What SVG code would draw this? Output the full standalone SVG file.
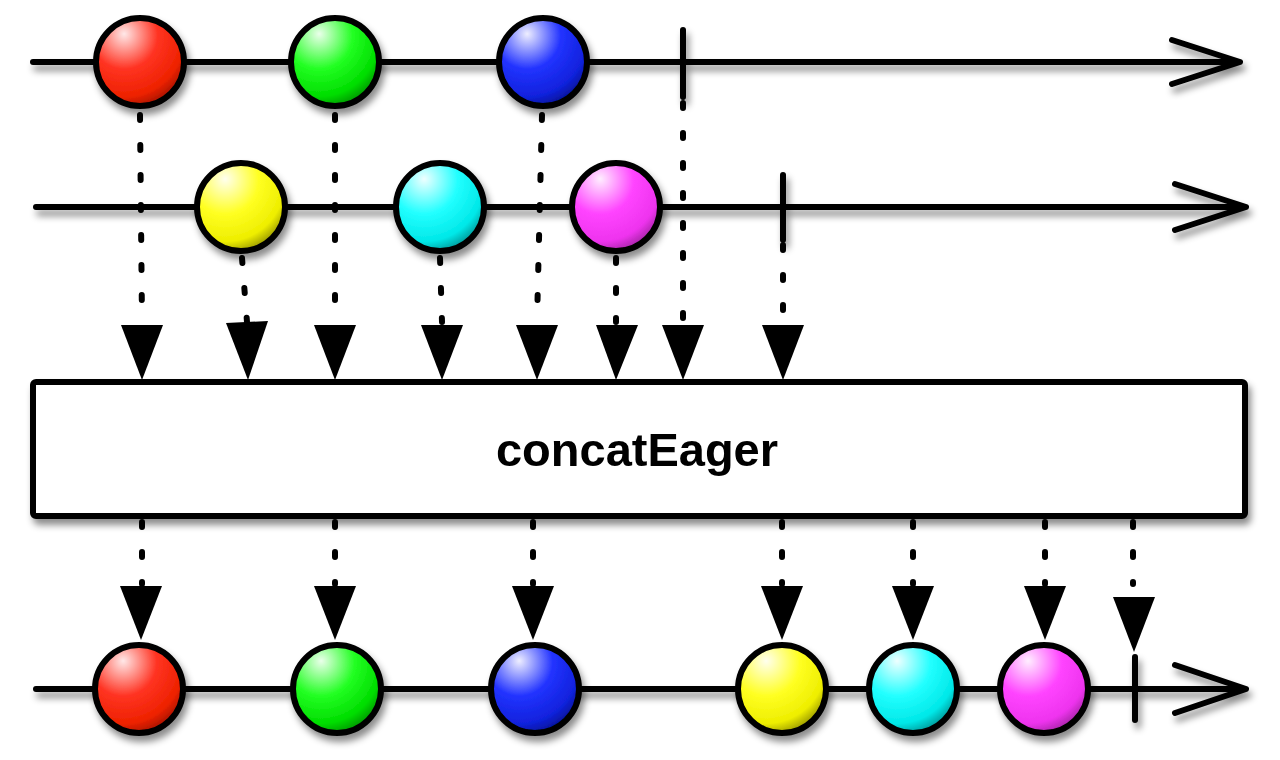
<svg xmlns="http://www.w3.org/2000/svg" width="1280" height="760" viewBox="0 0 1280 760">
<defs>
<filter id="sh" x="-20%" y="-20%" width="140%" height="160%">
<feDropShadow dx="3" dy="6" stdDeviation="3.5" flood-color="#000" flood-opacity="0.45"/>
</filter>
<radialGradient id="gRed" cx="0.32" cy="0.22" r="0.85" fx="0.32" fy="0.18">
<stop offset="0" stop-color="#ffe8e8"/><stop offset="0.45" stop-color="#ff3322"/><stop offset="0.8" stop-color="#ee2200"/><stop offset="1" stop-color="#991100"/>
</radialGradient>
<radialGradient id="gGreen" cx="0.32" cy="0.22" r="0.85" fx="0.32" fy="0.18">
<stop offset="0" stop-color="#eaffea"/><stop offset="0.45" stop-color="#22ff22"/><stop offset="0.8" stop-color="#00dd00"/><stop offset="1" stop-color="#008800"/>
</radialGradient>
<radialGradient id="gBlue" cx="0.32" cy="0.22" r="0.85" fx="0.32" fy="0.18">
<stop offset="0" stop-color="#eeeeff"/><stop offset="0.45" stop-color="#2233ff"/><stop offset="0.8" stop-color="#1122dd"/><stop offset="1" stop-color="#001188"/>
</radialGradient>
<radialGradient id="gYellow" cx="0.32" cy="0.22" r="0.85" fx="0.32" fy="0.18">
<stop offset="0" stop-color="#ffffee"/><stop offset="0.45" stop-color="#ffff22"/><stop offset="0.8" stop-color="#eeee00"/><stop offset="1" stop-color="#888800"/>
</radialGradient>
<radialGradient id="gCyan" cx="0.32" cy="0.22" r="0.85" fx="0.32" fy="0.18">
<stop offset="0" stop-color="#eeffff"/><stop offset="0.45" stop-color="#22ffff"/><stop offset="0.8" stop-color="#00e8e8"/><stop offset="1" stop-color="#008888"/>
</radialGradient>
<radialGradient id="gMagenta" cx="0.32" cy="0.22" r="0.85" fx="0.32" fy="0.18">
<stop offset="0" stop-color="#ffeeff"/><stop offset="0.45" stop-color="#ff44ff"/><stop offset="0.8" stop-color="#ee33ee"/><stop offset="1" stop-color="#992299"/>
</radialGradient>
</defs>
<style>
.line{stroke:#000;stroke-width:6;fill:none;stroke-linecap:round;stroke-linejoin:round}
.dot{stroke:#000;stroke-width:6;fill:none;stroke-linecap:round;stroke-dasharray:5 25}
.marble{stroke:#000;stroke-width:6}
.head{fill:#000}
.label{font-family:"Liberation Sans",Arial,sans-serif;font-weight:bold;font-size:47px;fill:#000}
</style>

<g id="connectors">
<line class="dot" x1="140" y1="115" x2="142" y2="322"/>
<line class="dot" x1="335" y1="115" x2="335" y2="322"/>
<line class="dot" x1="542" y1="115" x2="537" y2="322"/>
<line class="dot" x1="683" y1="103" x2="683" y2="322"/>
<line class="dot" x1="242" y1="258" x2="247" y2="322"/>
<line class="dot" x1="440" y1="258" x2="442" y2="322"/>
<line class="dot" x1="616" y1="258" x2="616" y2="322"/>
<line class="dot" x1="783" y1="245" x2="783" y2="322"/>
<polygon class="head" points="121,325 163,325 142,380"/>
<polygon class="head" points="226,323 268,321 248,380"/>
<polygon class="head" points="314,325 356,325 335,380"/>
<polygon class="head" points="421,325 463,325 442,380"/>
<polygon class="head" points="516,325 558,325 537,380"/>
<polygon class="head" points="596,325 638,325 616,380"/>
<polygon class="head" points="662,325 704,325 683,380"/>
<polygon class="head" points="762,325 804,325 783,380"/>
<line class="dot" x1="142" y1="522" x2="142" y2="584"/>
<line class="dot" x1="335" y1="522" x2="335" y2="584"/>
<line class="dot" x1="533" y1="522" x2="533" y2="584"/>
<line class="dot" x1="782" y1="522" x2="782" y2="584"/>
<line class="dot" x1="913" y1="522" x2="913" y2="584"/>
<line class="dot" x1="1045" y1="522" x2="1045" y2="584"/>
<line class="dot" x1="1133" y1="522" x2="1133" y2="584"/>
<polygon class="head" points="120,586 162,586 141,640"/>
<polygon class="head" points="314,586 356,586 335,640"/>
<polygon class="head" points="512,586 554,586 533,640"/>
<polygon class="head" points="761,586 803,586 782,640"/>
<polygon class="head" points="892,586 934,586 913,640"/>
<polygon class="head" points="1024,586 1066,586 1045,640"/>
<polygon class="head" points="1113,597 1155,597 1134,652"/>
</g>

<g id="timeline1" filter="url(#sh)">
<line class="line" x1="33" y1="62" x2="1238" y2="62"/>
<polyline class="line" points="1172,40 1240,62 1172,84"/>
<line class="line" x1="683" y1="30" x2="683" y2="97"/>
</g>
<g id="timeline2" filter="url(#sh)">
<line class="line" x1="36" y1="207" x2="1244" y2="207"/>
<polyline class="line" points="1175,184 1246,207 1175,230"/>
<line class="line" x1="783" y1="175" x2="783" y2="240"/>
</g>
<g id="timeline3" filter="url(#sh)">
<line class="line" x1="36" y1="689" x2="1244" y2="689"/>
<polyline class="line" points="1175,665 1246,689 1175,713"/>
<line class="line" x1="1135" y1="657" x2="1135" y2="720"/>
</g>

<g id="m1-red" filter="url(#sh)"><circle class="marble" cx="140" cy="62" r="44" fill="url(#gRed)"/></g>
<g id="m1-green" filter="url(#sh)"><circle class="marble" cx="335" cy="62" r="44" fill="url(#gGreen)"/></g>
<g id="m1-blue" filter="url(#sh)"><circle class="marble" cx="543" cy="62" r="44" fill="url(#gBlue)"/></g>

<g id="m2-yellow" filter="url(#sh)"><circle class="marble" cx="241" cy="207" r="44" fill="url(#gYellow)"/></g>
<g id="m2-cyan" filter="url(#sh)"><circle class="marble" cx="440" cy="207" r="44" fill="url(#gCyan)"/></g>
<g id="m2-magenta" filter="url(#sh)"><circle class="marble" cx="616" cy="207" r="44" fill="url(#gMagenta)"/></g>

<g id="operator" filter="url(#sh)">
<rect x="33" y="382" width="1212" height="134" rx="3" fill="#fff" stroke="#000" stroke-width="6"/>
<text class="label" x="637" y="466" text-anchor="middle">concatEager</text>
</g>

<g id="m3-red" filter="url(#sh)"><circle class="marble" cx="139" cy="689" r="44" fill="url(#gRed)"/></g>
<g id="m3-green" filter="url(#sh)"><circle class="marble" cx="337" cy="689" r="44" fill="url(#gGreen)"/></g>
<g id="m3-blue" filter="url(#sh)"><circle class="marble" cx="535" cy="689" r="44" fill="url(#gBlue)"/></g>
<g id="m3-yellow" filter="url(#sh)"><circle class="marble" cx="782" cy="689" r="44" fill="url(#gYellow)"/></g>
<g id="m3-cyan" filter="url(#sh)"><circle class="marble" cx="913" cy="689" r="44" fill="url(#gCyan)"/></g>
<g id="m3-magenta" filter="url(#sh)"><circle class="marble" cx="1044" cy="689" r="44" fill="url(#gMagenta)"/></g>
</svg>
